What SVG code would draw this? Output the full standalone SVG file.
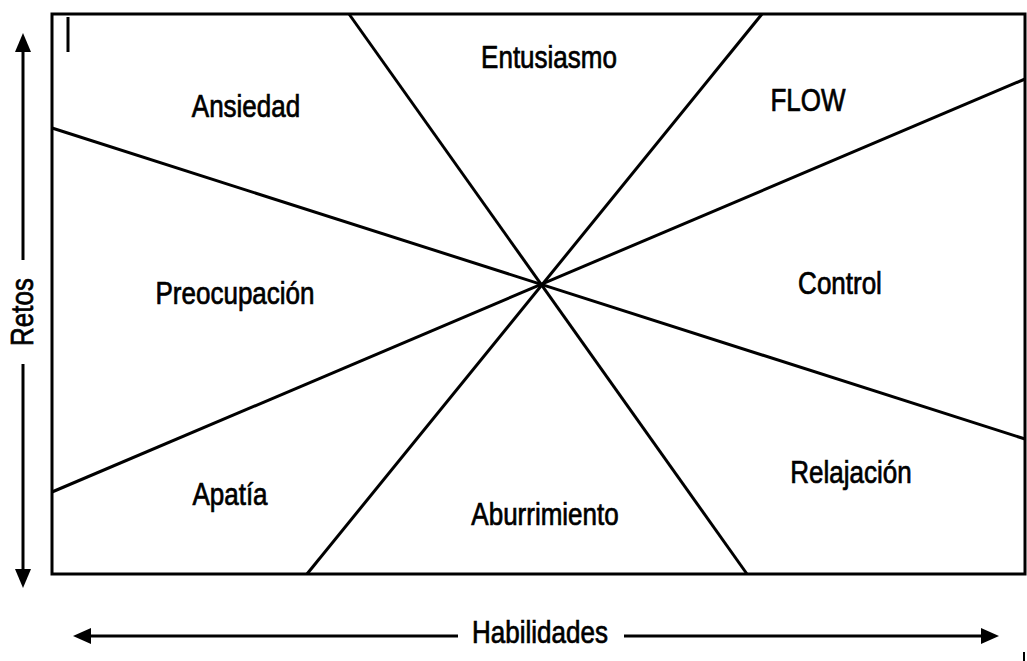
<svg xmlns="http://www.w3.org/2000/svg" width="1027" height="661" viewBox="0 0 1027 661">
<style>
.ln{stroke:#000;stroke-width:3;fill:none}
.lb{font-family:"Liberation Sans",Arial,sans-serif;font-size:26px;fill:#000;stroke:#000;stroke-width:0.6;text-anchor:middle}
.ah{fill:#000}
</style>
<rect width="1027" height="661" fill="#fff"/>
<g id="frame">
<rect class="ln" x="52" y="14" width="973" height="560"/>
<line class="ln" x1="68" y1="17" x2="68" y2="52"/>
</g>
<g id="connectors">
<line class="ln" x1="349" y1="14" x2="747" y2="574"/>
<line class="ln" x1="762" y1="14" x2="307" y2="574"/>
<line class="ln" x1="52" y1="128" x2="1025" y2="439"/>
<line class="ln" x1="52" y1="492" x2="1025" y2="79"/>
</g>
<g id="axis-retos">
<line class="ln" x1="23" y1="48" x2="23" y2="260"/>
<line class="ln" x1="23" y1="364" x2="23" y2="574"/>
<polygon class="ah" points="23,33 15,52 31,52"/>
<polygon class="ah" points="23,588 15,569 31,569"/>
<text class="lb" transform="translate(33,312) rotate(-90) scale(1,1.18)">Retos</text>
</g>
<g id="axis-habilidades">
<line class="ln" x1="86" y1="636" x2="458" y2="636"/>
<line class="ln" x1="624" y1="636" x2="985" y2="636"/>
<polygon class="ah" points="73,636 91,628 91,644"/>
<polygon class="ah" points="999,636 981,628 981,644"/>
<text class="lb" transform="translate(540,643) scale(1,1.18)" font-size="27">Habilidades</text>
</g>
<g id="ansiedad"><text class="lb" transform="translate(246,117) scale(1,1.2)">Ansiedad</text></g>
<g id="entusiasmo"><text class="lb" transform="translate(549,68) scale(1,1.2)">Entusiasmo</text></g>
<g id="flow"><text class="lb" transform="translate(808,111) scale(1,1.2)">FLOW</text></g>
<g id="preocupacion"><text class="lb" transform="translate(235,304) scale(1,1.2)">Preocupación</text></g>
<g id="control"><text class="lb" transform="translate(840,294) scale(1,1.2)">Control</text></g>
<g id="apatia"><text class="lb" transform="translate(230,505) scale(1,1.2)">Apatía</text></g>
<g id="aburrimiento"><text class="lb" transform="translate(545,525) scale(1,1.2)">Aburrimiento</text></g>
<g id="relajacion"><text class="lb" transform="translate(851,483) scale(1,1.2)">Relajación</text></g>
<line x1="1024" y1="652" x2="1024" y2="661" stroke="#000" stroke-width="2"/>
</svg>
